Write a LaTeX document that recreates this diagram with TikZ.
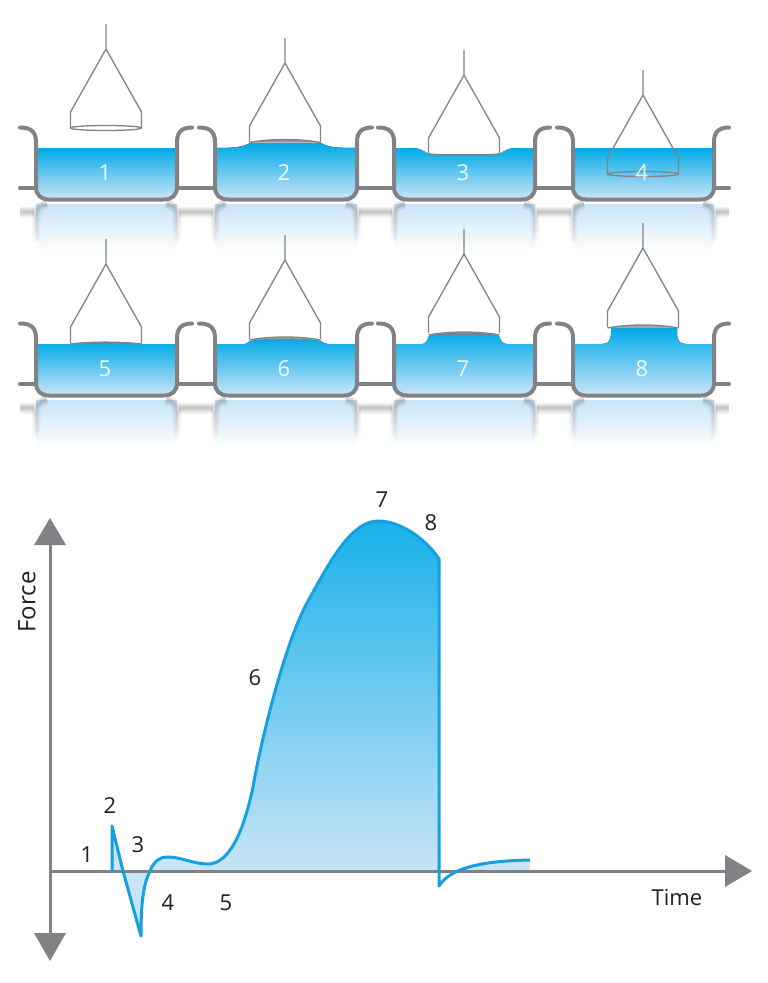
\documentclass[tikz,border=0pt]{standalone}
\usepackage{fontspec}
\setmainfont{Open Sans}
\usetikzlibrary{fadings}
\definecolor{steel}{RGB}{128,130,133}
\definecolor{aqua}{RGB}{0,170,232}
\definecolor{aquapale}{RGB}{200,228,247}
\definecolor{aquamid}{RGB}{178,218,244}
\definecolor{curveblue}{RGB}{22,160,224}
\definecolor{inktext}{RGB}{35,31,32}
\tikzfading[name=fadedown, top color=transparent!0, bottom color=transparent!100]
\tikzset{
  wall/.style={draw=steel, line width=4pt, line cap=round, line join=round},
  thinwire/.style={draw=steel, line width=1.3pt, line join=round},
  water/.style={top color=aqua, bottom color=aquapale, draw=none},
  dishno/.style={text=white, font=\fontsize{22}{24}\selectfont, opacity=.9, inner sep=0pt},
  chartno/.style={text=inktext, font=\fontsize{22}{24}\selectfont, inner sep=0pt},
  axisline/.style={draw=steel, line width=3pt},
  axishead/.style={fill=steel, draw=none},
  trace/.style={draw=curveblue, line width=3pt, line join=round},
  blurstroke/.style={draw=steel, opacity=.14, path fading=fadedown},
  benchblur/.style={fill=steel, opacity=.1},
}
% Water body with its surface as the third argument
\newcommand{\waterbody}[3]{%
  \fill[water] (#1,148) #3 -- (#2,188)
    .. controls (#2,195) and (#2-5,198) .. (#2-12,198)
    -- (#1+12,198)
    .. controls (#1+5,198) and (#1,195) .. (#1,188) -- cycle;}
% Vessel outline with upper rims
\newcommand{\vesselwall}[2]{%
  \draw[wall] (#1-16,127.5) .. controls (#1-6,127.5) and (#1,131) .. (#1,142)
    -- (#1,187) .. controls (#1,195) and (#1+5,199.5) .. (#1+13,199.5)
    -- (#2-13,199.5) .. controls (#2-5,199.5) and (#2,195) .. (#2,187)
    -- (#2,142) .. controls (#2,131) and (#2+6,127.5) .. (#2+15,127.5);}
% Mirror image of a vessel on the bench
\newcommand{\vesselglow}[2]{%
  \fill[aquapale, path fading=fadedown] (#1,204) rectangle (#2,251);
  \foreach \halfw in {9,6,4,2}{
    \draw[blurstroke, line width=\halfw pt]
      (#1,242) -- (#1,216) .. controls (#1,209) and (#1+4,205) .. (#1+11,204)
      (#2,242) -- (#2,216) .. controls (#2,209) and (#2-4,205) .. (#2-11,204);
  }}
% Blurred mirror image of a flange
\newcommand{\benchband}[2]{%
  \fill[benchblur] (#1,206.5) rectangle (#2,217.5);
  \fill[benchblur] (#1,208) rectangle (#2,216);
  \fill[benchblur] (#1,209) rectangle (#2,215);
  \fill[benchblur] (#1,210) rectangle (#2,214);
  \fill[benchblur] (#1,211) rectangle (#2,213);}
% Probe on its wire: centre x, downward offset
\newcommand{\probe}[2]{%
  \draw[thinwire] (#1,24+#2) -- (#1,49+#2)
    (#1-35.5,128+#2) -- (#1-35.5,112+#2) -- (#1,49+#2) -- (#1+35.5,112+#2) -- (#1+35.5,128+#2);}
\newcommand{\lensbase}[4]{%
  \fill[steel, opacity=#4] (#1-35.5,#2) .. controls (#1-15,#2-#3) and (#1+15,#2-#3) .. (#1+35.5,#2) -- cycle;
  \draw[steel, line width=1.3pt] (#1-35.5,#2) .. controls (#1-15,#2-#3) and (#1+15,#2-#3) .. (#1+35.5,#2);}
\begin{document}
\begin{tikzpicture}[x=1pt,y=-1pt]
\useasboundingbox (0,0) rectangle (768,983);
\fill[white] (0,0) rectangle (768,983);

% ---- mirror images on the bench ----
\foreach \off in {0,196}{
\begin{scope}[yshift=-\off pt]
  \foreach \l/\r in {36/177,215/357,394/535,573/714}{\vesselglow{\l}{\r}}
  \benchband{20}{34}
  \benchband{179}{213}
  \benchband{359}{392}
  \benchband{537}{571}
  \benchband{716}{729}
\end{scope}}

\waterbody{36}{177}{-- (177,148)}
\waterbody{215}{357}{.. controls (235,148) and (243,147) .. (250,143) -- (321,143) .. controls (327,147) and (335,148) .. (357,148)}
\waterbody{394}{535}{-- (412,148) .. controls (420,148) and (423,151) .. (429,154) -- (499,154) .. controls (505,151) and (508,148) .. (516,148) -- (535,148)}
\waterbody{573}{714}{-- (714,148)}

\begin{scope}[yshift=-196pt]
\waterbody{36}{177}{-- (70,148) .. controls (90,146) and (122,146) .. (142,148) -- (177,148)}
\waterbody{215}{357}{-- (245,148) .. controls (248,147) and (249,146) .. (250,145) .. controls (270,142) and (300,142) .. (321,145) .. controls (323,147) and (325,148) .. (328,148) -- (357,148)}
\waterbody{394}{535}{-- (422,148) .. controls (426,148) and (427,145) .. (429,140) .. controls (445,136) and (482,136) .. (499,140) .. controls (501,145) and (502,148) .. (507,148) -- (535,148)}
\waterbody{573}{714}{-- (602,148) .. controls (608,148) and (611,145) .. (611,137) -- (611,132) -- (677,132) -- (677,137) .. controls (677,145) and (680,148) .. (686,148) -- (714,148)}
\end{scope}

% Flange lines between the vessels
\foreach \off in {0,196}{
\begin{scope}[yshift=-\off pt]
  \draw[wall] (20,188) -- (36,188);
  \draw[wall] (177,188) -- (215,188);
  \draw[wall] (357,188) -- (394,188);
  \draw[wall] (535,188) -- (573,188);
  \draw[wall] (714,188) -- (729,188);
  \foreach \l/\r in {36/177,215/357,394/535,573/714}{\vesselwall{\l}{\r}}
\end{scope}}

% Probes, first row
\probe{106}{0}
\draw[thinwire] (106,128) ellipse [x radius=35.5, y radius=2.5];
\probe{285}{14}
\lensbase{285}{142.5}{4}{.85}
\probe{464}{26}
\lensbase{464}{154}{-1.5}{.5}
\probe{643}{46}
\draw[thinwire] (643,174) ellipse [x radius=35.5, y radius=2.5];

% Probes, second row
\probe{106}{215}
\lensbase{106}{344}{2.5}{.25}
\probe{285}{211}
\lensbase{285}{340}{4}{.7}
\probe{464}{205}
\lensbase{464}{335}{4}{.7}
\probe{643}{199}
\lensbase{643}{328}{4}{.7}

% Vessel numbers
\node[dishno] (d1) at (105,173) {1};
\node[dishno] (d2) at (284,173) {2};
\node[dishno] (d3) at (463,173) {3};
\node[dishno] (d4) at (642,173) {4};
\node[dishno] (d5) at (105,369) {5};
\node[dishno] (d6) at (284,369) {6};
\node[dishno] (d7) at (463,369) {7};
\node[dishno] (d8) at (642,369) {8};

% ---- force curve ----
\fill[aquapale] (112,871) -- (112,826) -- (123,871) -- cycle;
\fill[aquapale] (123,871) -- (141,936) .. controls (141,905) and (143,885) .. (150,871) -- cycle;
\fill[aquapale] (150,871) .. controls (154,861) and (160,857) .. (167,857)
  .. controls (183,857) and (192,864) .. (208,864) -- (208,871) -- cycle;
\begin{scope}
  \clip (439,855) rectangle (530,871);
  \fill[aquamid, opacity=.7] (439,886) .. controls (448,872) and (470,861) .. (530,860) -- (530,886) -- cycle;
\end{scope}
\shade[top color=aqua!88!aquapale, bottom color=aquapale]
  (208,864) .. controls (228,864) and (243,835) .. (253,787)
  .. controls (262,735) and (286,641) .. (307,603)
  .. controls (327,567) and (350,521) .. (378,521)
  .. controls (400,521) and (425,538) .. (439,559)
  -- (439,871) -- (208,871) -- cycle;

\draw[axisline] (50,545) -- (50,933);
\draw[axisline] (50,871) -- (725,871);
\fill[axishead] (50,518) -- (66,545) -- (34,545) -- cycle;
\fill[axishead] (50,961) -- (66,933) -- (34,933) -- cycle;
\fill[axishead] (752,871) -- (725,855) -- (725,887) -- cycle;

\draw[trace] (112,871) -- (112,826) -- (123,871) -- (141,936)
  .. controls (141,905) and (143,885) .. (150,871)
  .. controls (154,861) and (160,857) .. (167,857)
  .. controls (183,857) and (192,864) .. (208,864)
  .. controls (228,864) and (243,835) .. (253,787)
  .. controls (262,735) and (286,641) .. (307,603)
  .. controls (327,567) and (350,521) .. (378,521)
  .. controls (400,521) and (425,538) .. (439,559)
  -- (439,886) .. controls (448,872) and (470,861) .. (530,860);

% Axis and curve labels
\node[chartno] (c1) at (87,855) {1};
\node[chartno] (c2) at (110,806) {2};
\node[chartno] (c3) at (138,845) {3};
\node[chartno] (c4) at (168,903) {4};
\node[chartno] (c5) at (226,903) {5};
\node[chartno] (c6) at (255,678) {6};
\node[chartno] (c7) at (382,500) {7};
\node[chartno] (c8) at (431,523) {8};
\node[chartno, rotate=90, font=\fontsize{24}{26}\selectfont] (forcelabel) at (27,602) {Force};
\node[chartno] (timelabel) at (677,898) {Time};
\end{tikzpicture}
\end{document}
